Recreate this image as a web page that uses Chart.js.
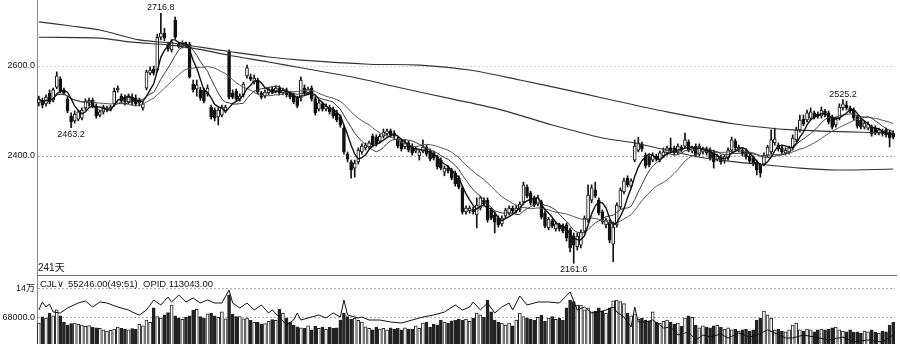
<!DOCTYPE html>
<html>
<head>
<meta charset="utf-8">
<script src="https://cdn.jsdelivr.net/npm/chart.js@4.4.1/dist/chart.umd.min.js"></script>
<style>
  html, body { margin: 0; padding: 0; background: #fff; }
  #wrap { position: relative; width: 900px; height: 344px; overflow: hidden; }
  #price { position: absolute; left: 0; top: 0; }
  #volume { position: absolute; left: 0; top: 277px; }
</style>
</head>
<body>
<div id="wrap">
  <canvas id="price" width="900" height="277"></canvas>
  <canvas id="volume" width="900" height="67"></canvas>
</div>
<script>
// daily bars
const opens = [2518,2524,2516,2540,2524,2553,2571,2547,2527,2489,
  2478,2482,2484,2507,2518,2524,2511,2491,2498,2504,
  2504,2516,2547,2533,2531,2520,2531,2529,2518,2507,
  2551,2584,2593,2591,2664,2673,2647,2636,2702,2649,
  2644,2649,2649,2560,2549,2547,2547,2538,2509,2502,
  2487,2491,2500,2631,2540,2544,2527,2536,2578,2576,
  2564,2569,2540,2533,2540,2549,2544,2551,2540,2547,
  2540,2536,2529,2529,2551,2540,2551,2527,2504,2516,
  2504,2509,2504,2496,2487,2462,2404,2387,2373,2387,
  2409,2418,2420,2444,2442,2433,2444,2449,2456,2451,
  2438,2433,2420,2429,2422,2411,2400,2411,2420,2411,
  2407,2398,2391,2364,2373,2369,2362,2351,2329,2276,
  2278,2282,2269,2284,2302,2302,2280,2269,2262,2249,
  2267,2273,2284,2278,2280,2298,2331,2318,2307,2293,
  2298,2273,2240,2256,2238,2247,2244,2247,2236,2222,
  2198,2202,2233,2258,2302,2324,2302,2276,2247,2253,
  2204,2247,2287,2320,2351,2333,2391,2413,2427,2402,
  2398,2391,2400,2391,2400,2407,2418,2418,2409,2420,
  2422,2431,2411,2422,2404,2409,2416,2413,2409,2393,
  2398,2389,2396,2413,2433,2413,2413,2411,2400,2396,
  2387,2380,2382,2402,2409,2429,2424,2418,2407,2409,
  2418,2436,2458,2482,2480,2484,2496,2493,2489,2500,
  2496,2487,2469,2484,2507,2513,2507,2502,2487,2480,
  2464,2462,2464,2462,2451,2456,2458,2453,2451];

const highs = [2533,2529,2536,2547,2551,2587,2576,2551,2533,2496,
  2500,2502,2507,2527,2529,2529,2516,2502,2513,2511,
  2513,2551,2556,2538,2536,2538,2538,2536,2529,2520,
  2591,2598,2600,2671,2716.8,2684,2653,2658,2709,2653,
  2656,2653,2653,2569,2569,2553,2551,2558,2513,2507,
  2507,2513,2513,2636,2547,2549,2538,2564,2602,2582,
  2580,2573,2544,2547,2553,2553,2556,2556,2551,2551,
  2544,2540,2533,2576,2558,2553,2556,2531,2524,2520,
  2516,2513,2509,2502,2491,2467,2409,2391,2391,2418,
  2427,2429,2433,2449,2447,2449,2460,2460,2460,2456,
  2442,2438,2436,2433,2427,2420,2413,2436,2424,2416,
  2411,2402,2396,2378,2378,2373,2367,2356,2333,2289,
  2289,2287,2307,2311,2307,2307,2284,2276,2267,2267,
  2284,2289,2289,2291,2298,2342,2336,2322,2311,2313,
  2302,2278,2264,2260,2253,2251,2249,2251,2240,2229,
  2229,2236,2267,2336,2336,2342,2307,2280,2262,2258,
  2253,2296,2329,2351,2356,2349,2436,2442,2431,2407,
  2402,2407,2404,2411,2418,2422,2440,2422,2427,2424,
  2451,2436,2422,2427,2427,2420,2420,2418,2413,2404,
  2402,2402,2418,2442,2438,2424,2418,2416,2404,2400,
  2391,2384,2407,2424,2458,2462,2429,2422,2418,2422,
  2447,2464,2491,2491,2502,2507,2500,2498,2509,2504,
  2500,2491,2487,2516,2525.2,2522,2511,2507,2491,2484,
  2478,2476,2469,2467,2462,2460,2462,2458,2456];

const lows = [2511,2507,2511,2516,2520,2549,2540,2536,2496,2463.2,
  2473,2478,2480,2502,2511,2507,2484,2487,2493,2498,
  2500,2511,2542,2518,2513,2516,2513,2511,2511,2502,
  2547,2580,2580,2587,2658,2656,2633,2631,2660,2640,
  2640,2640,2573,2542,2533,2524,2518,2533,2482,2478,
  2469,2487,2496,2527,2527,2522,2522,2531,2573,2567,
  2560,2538,2527,2529,2536,2538,2540,2536,2536,2531,
  2527,2516,2507,2522,2536,2536,2522,2491,2500,2500,
  2500,2493,2484,2476,2464,2404,2387,2351,2353,2382,
  2404,2413,2416,2420,2422,2429,2440,2444,2442,2440,
  2418,2411,2416,2409,2402,2407,2391,2407,2400,2389,
  2391,2371,2369,2356,2362,2347,2333,2327,2271,2271,
  2273,2271,2240,2280,2289,2253,2258,2229,2242,2244,
  2262,2269,2273,2273,2276,2293,2307,2291,2287,2289,
  2260,2240,2236,2240,2233,2233,2229,2211,2187,2161.6,
  2191,2196,2229,2253,2296,2307,2269,2249,2240,2207,
  2165,2242,2282,2316,2331,2329,2387,2409,2411,2373,
  2376,2387,2389,2387,2396,2402,2407,2402,2404,2409,
  2418,2409,2407,2398,2400,2404,2402,2391,2373,2389,
  2382,2384,2391,2409,2413,2409,2400,2393,2384,2378,
  2358,2353,2378,2398,2404,2424,2411,2404,2402,2404,
  2413,2431,2453,2467,2476,2480,2482,2484,2484,2487,
  2471,2460,2464,2480,2502,2502,2496,2480,2462,2460,
  2460,2458,2444,2447,2447,2444,2442,2420,2438];

const closes = [2527,2513,2531,2520,2547,2578,2544,2540,2500,2476,
  2493,2498,2502,2522,2524,2511,2489,2498,2509,2507,
  2509,2544,2551,2522,2520,2531,2520,2516,2524,2516,
  2587,2591,2584,2664,2673,2662,2638,2653,2664,2644,
  2651,2644,2576,2547,2558,2529,2522,2551,2487,2484,
  2502,2509,2509,2531,2531,2527,2533,2560,2596,2571,
  2573,2542,2531,2542,2549,2542,2551,2540,2547,2536,
  2531,2520,2511,2569,2540,2549,2527,2496,2518,2504,
  2511,2498,2489,2480,2469,2409,2393,2369,2384,2413,
  2422,2424,2429,2424,2427,2444,2453,2456,2447,2444,
  2422,2416,2429,2413,2407,2416,2409,2420,2404,2393,
  2396,2376,2373,2373,2367,2351,2338,2331,2276,2284,
  2284,2276,2291,2307,2293,2258,2262,2253,2247,2262,
  2280,2284,2278,2284,2293,2336,2311,2296,2291,2307,
  2264,2244,2260,2244,2249,2238,2233,2218,2196,2202,
  2222,2231,2262,2313,2329,2311,2273,2253,2258,2213,
  2242,2291,2324,2345,2336,2345,2422,2429,2416,2378,
  2380,2402,2393,2407,2409,2418,2411,2407,2422,2413,
  2436,2413,2418,2402,2422,2416,2407,2396,2387,2400,
  2387,2398,2413,2436,2418,2420,2404,2398,2389,2382,
  2369,2362,2402,2420,2436,2438,2416,2409,2413,2418,
  2440,2458,2480,2471,2496,2498,2487,2489,2502,2491,
  2476,2464,2482,2509,2516,2507,2500,2484,2467,2464,
  2473,2471,2449,2451,2458,2449,2447,2440,2442];

const volumes = [53000,69000,66000,79000,72000,87000,72000,56000,48000,52000,
  53000,50000,48000,45000,47000,43000,41000,40000,36000,33000,
  35000,38000,43000,40000,38000,36000,39000,38000,50000,46000,
  61000,55000,92000,70000,66000,74000,80000,99000,72000,66000,
  63000,68000,72000,86000,88000,70000,66000,77000,79000,72000,
  68000,82000,64000,125000,76000,70000,70000,64000,66000,60000,
  56000,55000,50000,52000,58000,62000,60000,88000,79000,66000,
  56000,48000,44000,41000,40000,46000,36000,45000,40000,43000,
  38000,43000,40000,41000,61000,79000,70000,63000,66000,60000,
  56000,44000,40000,36000,43000,38000,40000,36000,41000,38000,
  40000,36000,41000,38000,38000,46000,40000,53000,56000,43000,
  51000,48000,61000,56000,53000,59000,61000,63000,61000,63000,
  58000,66000,79000,74000,68000,112000,82000,61000,56000,53000,
  48000,53000,46000,61000,79000,70000,66000,63000,61000,68000,
  73000,58000,66000,70000,63000,66000,61000,92000,112000,108000,
  99000,99000,87000,92000,82000,84000,92000,84000,79000,92000,
  110000,112000,108000,103000,79000,72000,76000,63000,66000,61000,
  58000,82000,56000,53000,58000,61000,56000,51000,53000,45000,
  66000,72000,68000,48000,41000,46000,43000,41000,46000,48000,
  43000,38000,41000,36000,38000,33000,36000,38000,33000,36000,
  61000,66000,84000,74000,66000,36000,38000,33000,31000,36000,
  48000,53000,36000,33000,38000,36000,31000,36000,38000,36000,
  38000,41000,43000,36000,33000,31000,36000,30000,31000,28000,
  33000,31000,36000,30000,28000,33000,31000,48000,55246];

// open interest, read at the visible turning points (bar number, value)
const opidDays = [0,1,2,3,4,6,8,11,13,15,17,19,22,25,26,28,30,32,34,36,37,39,41,43,45,47,49,51,53,54,
  56,58,60,62,64,65,67,69,71,72,73,75,78,80,82,84,85,86,89,90,92,95,98,101,104,107,110,113,116,118,
  120,121,123,125,127,129,131,132,134,136,139,142,145,148,150,152,154,156,158,160,161,163,165,166,167,169,171,173,174,176,
  178,181,183,185,187,190,192,195,198,200,203,205,208,210,213,216,220,224,227,231,235,237,238];
const opidValues = [135600,142800,138300,141000,133800,132900,137400,141900,143700,138300,142800,141900,138300,135600,133800,131100,135600,144600,140100,147300,142800,149100,142800,146400,141900,144600,141900,141900,153600,141900,
  137400,141900,135600,140100,132900,135600,129300,122100,126600,132900,126600,128400,131100,128400,132900,129300,144600,131100,128400,129300,126600,126600,124800,123900,126600,129300,131100,133800,140100,135600,
  138300,142800,135600,141900,132900,138300,141900,135600,148200,140100,142800,142800,141900,151800,135600,138300,132900,133800,135600,138300,133800,129300,120300,138300,124800,124800,126600,122100,119400,120300,
  113100,115800,108600,113100,111300,114000,110400,114900,111300,113100,117600,114900,110400,110400,113100,111300,108600,111300,106800,108600,106800,111300,113043];

// the two slow averages, read at points along each curve
const maLongADays = [0,9,17,28,37,45,54,64,73,92,106,120,134,147,157,175,194,210,238];
const maLongAValues = [2698,2689,2680,2658,2651,2642,2631,2620,2613,2604,2602,2591,2569,2547,2529,2498,2471,2458,2451];
const maLongBDays = [0,17,26,36,44,53,64,73,87,101,115,129,143,157,166,175,185,194,203,212,222,238];
const maLongBValues = [2664,2662,2653,2647,2638,2624,2609,2596,2576,2551,2527,2502,2469,2440,2429,2413,2396,2387,2380,2373,2369,2371];

const priceTicks = [2400, 2600];
const volumeTicks = [68000, 140000];
const peakLabels = [2716.8, 2525.2];
const troughLabels = [2463.2, 2161.6];
const spanLabel = '241天';
const ratioText = '(49:51)';

const N = closes.length;
const days = closes.map((c, i) => i + 1);

function movingAverage(values, n) {
  return values.map((v, i) => {
    const win = values.slice(Math.max(0, i - n + 1), i + 1);
    return win.reduce((a, b) => a + b, 0) / win.length;
  });
}

function sparse(idx, vals) {
  const out = new Array(N).fill(null);
  idx.forEach((d, k) => { out[d] = vals[k]; });
  return out;
}

const ink = '#111';
const tickFont = { family: '"Liberation Sans", "Noto Sans CJK SC", sans-serif', size: 9 };
const upDown = closes.map((c, i) => c >= opens[i]);

// price panel
const priceDecor = {
  id: 'priceDecor',
  afterDatasetsDraw(chart) {
    const { ctx, chartArea, scales: { x, y } } = chart;
    ctx.save();
    ctx.fillStyle = ink;
    ctx.font = '9px "Liberation Sans", sans-serif';
    ctx.textAlign = 'center';
    ctx.textBaseline = 'alphabetic';
    peakLabels.forEach(v => {
      const i = highs.indexOf(v);
      ctx.fillText(v.toFixed(1), x.getPixelForValue(i), y.getPixelForValue(v) - 3);
    });
    ctx.textBaseline = 'top';
    troughLabels.forEach(v => {
      const i = lows.indexOf(v);
      ctx.fillText(v.toFixed(1), x.getPixelForValue(i), y.getPixelForValue(v) + 2);
    });
    ctx.strokeStyle = '#777';
    ctx.lineWidth = 1;
    ctx.beginPath();
    ctx.moveTo(chartArea.left, chartArea.bottom - 1.5);
    ctx.lineTo(chartArea.right + 2, chartArea.bottom - 1.5);
    ctx.stroke();
    ctx.textAlign = 'left';
    ctx.textBaseline = 'middle';
    ctx.font = '10px "Liberation Sans", "Noto Sans CJK SC", sans-serif';
    ctx.fillText(spanLabel, chartArea.left + 1, chartArea.bottom - 9);
    ctx.restore();
  }
};

new Chart(document.getElementById('price'), {
  type: 'bar',
  data: {
    labels: days,
    datasets: [
      { type: 'line', data: movingAverage(closes, 5), borderColor: ink, borderWidth: 1.4, pointRadius: 0, tension: 0 },
      { type: 'line', data: movingAverage(closes, 10), borderColor: '#3a3a3a', borderWidth: 1, pointRadius: 0, tension: 0 },
      { type: 'line', data: movingAverage(closes, 20), borderColor: '#555', borderWidth: 1, pointRadius: 0, tension: 0 },
      { type: 'line', data: sparse(maLongADays, maLongAValues), spanGaps: true, borderColor: '#333', borderWidth: 1.1, pointRadius: 0, tension: 0.3 },
      { type: 'line', data: sparse(maLongBDays, maLongBValues), spanGaps: true, borderColor: '#333', borderWidth: 1.1, pointRadius: 0, tension: 0.3 },
      {
        data: opens.map((o, i) => [o, closes[i]]),
        backgroundColor: upDown.map(u => u ? '#fff' : ink),
        borderColor: ink, borderWidth: 1, borderSkipped: false,
        barThickness: 3, grouped: false
      },
      {
        data: lows.map((l, i) => [l, highs[i]]),
        backgroundColor: ink, borderWidth: 0,
        barThickness: 1, grouped: false
      }
    ]
  },
  options: {
    responsive: false,
    animation: false,
    events: [],
    layout: { padding: { left: 0, right: 5, top: 0, bottom: 0 } },
    plugins: { legend: { display: false }, tooltip: { enabled: false } },
    scales: {
      x: { display: false, offset: true },
      y: {
        min: 2131.1, max: 2746.7,
        afterBuildTicks: s => { s.ticks = priceTicks.map(v => ({ value: v })); },
        afterFit: s => { s.width = 37; s.paddingTop = 0; s.paddingBottom = 0; },
        ticks: { callback: v => v.toFixed(1), color: ink, font: tickFont, padding: 2 },
        grid: { color: v => v.tick && v.tick.value === 2600 ? '#d4d4d4' : '#aaa', drawTicks: false },
        border: { display: true, color: '#888', dash: [2, 2] }
      }
    }
  },
  plugins: [priceDecor]
});

// volume panel
const volumeDecor = {
  id: 'volumeDecor',
  afterDraw(chart) {
    const { ctx } = chart;
    ctx.save();
    ctx.fillStyle = ink;
    ctx.font = '9.5px "Liberation Sans", "DejaVu Sans", sans-serif';
    ctx.textBaseline = 'middle';
    ctx.textAlign = 'left';
    ctx.fillText('CJL\u2228', 40, 7);
    ctx.fillText(volumes[N - 1].toFixed(2) + ratioText, 68, 7);
    ctx.fillText('OPID ' + opidValues[opidValues.length - 1].toFixed(2), 143, 7);
    ctx.restore();
  }
};

new Chart(document.getElementById('volume'), {
  type: 'bar',
  data: {
    labels: days,
    datasets: [
      { type: 'line', yAxisID: 'y2', data: sparse(opidDays, opidValues), spanGaps: true, borderColor: ink, borderWidth: 1, pointRadius: 0, tension: 0 },
      {
        data: volumes,
        backgroundColor: upDown.map(u => u ? '#fff' : '#222'),
        borderColor: '#222', borderWidth: 1,
        barThickness: 3, grouped: false
      }
    ]
  },
  options: {
    responsive: false,
    animation: false,
    events: [],
    layout: { padding: { left: 0, right: 5, top: 0, bottom: 0 } },
    plugins: { legend: { display: false }, tooltip: { enabled: false } },
    scales: {
      x: { display: false, offset: true },
      y: {
        min: 0, max: 170500,
        afterBuildTicks: s => { s.ticks = volumeTicks.map(v => ({ value: v })); },
        afterFit: s => { s.width = 37; s.paddingTop = 0; s.paddingBottom = 0; },
        ticks: { callback: v => v === 140000 ? '14万' : v.toFixed(1), color: ink, font: tickFont, padding: 2 },
        grid: { color: '#aaa', drawTicks: false },
        border: { display: true, color: '#888', dash: [2, 2] }
      },
      y2: { display: false, min: 105000, max: 165300 }
    }
  },
  plugins: [volumeDecor]
});
</script>
</body>
</html>
